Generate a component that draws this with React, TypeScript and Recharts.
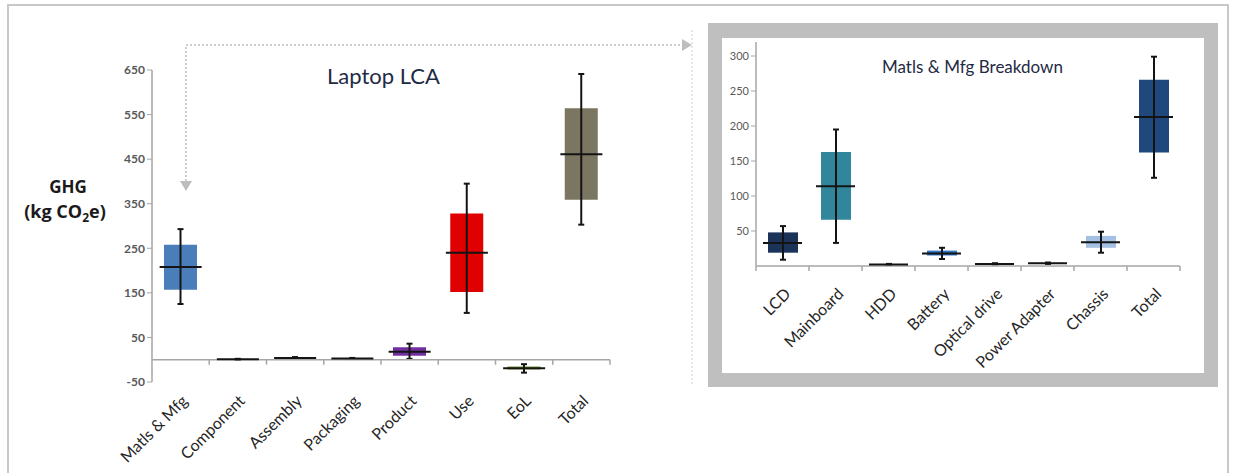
import React from "react";
import {
  ComposedChart,
  Bar,
  Scatter,
  XAxis,
  YAxis,
  Cell,
  ReferenceLine,
} from "recharts";

// Laptop LCA (left)
const lcaCategories = ["Matls & Mfg", "Component", "Assembly", "Packaging", "Product", "Use", "EoL", "Total"];
const lcaMin = [125, 0, 2, 1.5, 2, 105, -29, 303];
const lcaQ1 = [157, 0.5, 3, 2, 9, 152, -22, 359];
const lcaMedian = [208, 1, 4, 3, 18, 240, -19, 461];
const lcaQ3 = [258, 1.5, 5, 3.5, 28, 328, -15, 564];
const lcaMax = [293, 2, 6, 4, 36, 395, -10, 641];
const lcaTicks = [-50, 50, 150, 250, 350, 450, 550, 650];
const lcaColors = ["#4a7ebb", "#3a3a3a", "#3a3a3a", "#3a3a3a", "#7030a0", "#e00000", "#77933c", "#7a7661"];

// Matls & Mfg breakdown (right)
const partCategories = ["LCD", "Mainboard", "HDD", "Battery", "Optical drive", "Power Adapter", "Chassis", "Total"];
const partMin = [9, 33, 1, 10, 2, 3, 19, 126];
const partQ1 = [19, 66, 1.5, 15, 2.5, 3.5, 26, 162];
const partMedian = [33, 114, 2, 18, 3, 4, 34, 213];
const partQ3 = [48, 163, 2.5, 22, 3.5, 4.5, 43, 266];
const partMax = [57, 195, 3, 26, 4, 5, 49, 299];
const partTicks = [50, 100, 150, 200, 250, 300];
const partColors = ["#1b3358", "#31869b", "#404040", "#2f75c5", "#404040", "#404040", "#a4c1e3", "#1f497d"];

const FONT = "Lato, 'Open Sans', sans-serif";

type Row = { name: string; lo: number; q1: number; med: number; q3: number; hi: number };

function toRows(names: string[], lo: number[], q1: number[], med: number[], q3: number[], hi: number[]): Row[] {
  return names.map((name, i) => ({ name, lo: lo[i], q1: q1[i], med: med[i], q3: q3[i], hi: hi[i] }));
}

const lcaRows = toRows(lcaCategories, lcaMin, lcaQ1, lcaMedian, lcaQ3, lcaMax);
const partRows = toRows(partCategories, partMin, partQ1, partMedian, partQ3, partMax);

function Whisker(props: any) {
  const { x, y, width, height } = props;
  const cx = x + width / 2;
  const top = Math.min(y, y + height);
  const bot = Math.max(y, y + height);
  return (
    <g stroke="#141414" strokeWidth={2}>
      <line x1={cx} x2={cx} y1={top} y2={bot} />
      <line x1={cx - 3} x2={cx + 3} y1={top} y2={top} />
      <line x1={cx - 3} x2={cx + 3} y1={bot} y2={bot} />
    </g>
  );
}

const medianLine = (w: number) => (props: any) => (
  <line x1={props.cx - w / 2} x2={props.cx + w / 2} y1={props.cy} y2={props.cy} stroke="#141414" strokeWidth={2} />
);

// horizontal axis at zero with tick marks between categories
const zeroAxis = (count: number, from: number) => (p: any) => {
  const { x1, x2, y1 } = p;
  const step = (x2 - x1) / count;
  const marks = [];
  for (let i = from; i <= count; i++) {
    const tx = x1 + i * step;
    marks.push(<line key={i} x1={tx} x2={tx} y1={y1} y2={y1 + 5} />);
  }
  return (
    <g stroke="#a6a6a6" strokeWidth={1.5}>
      <line x1={x1} x2={x2} y1={y1} y2={y1} />
      {marks}
    </g>
  );
};

const slantTick = (dx: number, dy: number, size: number) => (props: any) => {
  const { x, y, payload } = props;
  const ax = x + dx;
  const ay = y + dy;
  return (
    <text x={ax} y={ay} transform={`rotate(-45 ${ax} ${ay})`} textAnchor="end" fontSize={size} fill="#262626" fontFamily={FONT}>
      {payload.value}
    </text>
  );
};

function BoxChart(props: {
  rows: Row[];
  colors: string[];
  domain: [number, number];
  ticks: number[];
  width: number;
  height: number;
  margin: { top: number; right: number; bottom: number; left: number };
  yWidth: number;
  boxW: number;
  medW: number;
  tickFrom: number;
  label: any;
  yTickStyle: any;
}) {
  const { rows, colors, domain, ticks, boxW, medW } = props;
  return (
    <ComposedChart width={props.width} height={props.height} data={rows} margin={props.margin} barGap={-boxW}>
      <XAxis
        dataKey="name"
        interval={0}
        axisLine={false}
        tickLine={false}
        tickSize={0}
        tickMargin={0}
        height={80}
        tick={props.label}
      />
      <YAxis
        type="number"
        domain={domain}
        ticks={ticks}
        width={props.yWidth}
        axisLine={{ stroke: "#a6a6a6", strokeWidth: 1.5 }}
        tickLine={{ stroke: "#a6a6a6" }}
        tickSize={5}
        tick={props.yTickStyle}
        allowDataOverflow
      />
      <ReferenceLine y={0} shape={zeroAxis(rows.length, props.tickFrom)} />
      <Bar dataKey={(d: Row) => [d.q1, d.q3]} barSize={boxW} isAnimationActive={false}>
        {rows.map((r, i) => (
          <Cell key={r.name} fill={colors[i]} />
        ))}
      </Bar>
      <Bar dataKey={(d: Row) => [d.lo, d.hi]} barSize={boxW} shape={Whisker} isAnimationActive={false} />
      <Scatter dataKey="med" shape={medianLine(medW)} isAnimationActive={false} />
    </ComposedChart>
  );
}

export default function App() {
  return (
    <div style={{ position: "absolute", left: 0, top: 0, width: 1233, height: 473, background: "#fff", fontFamily: FONT, overflow: "hidden" }}>
      <svg width={1233} height={473} style={{ position: "absolute", left: 0, top: 0 }}>
        <path d="M8 473 V5 H1228 V473" fill="none" stroke="#c8c8c8" strokeWidth={2} />
        <rect x={708} y={23} width={510} height={364} fill="#bfbfbf" />
        <rect x={722} y={38} width={482} height={335} fill="#ffffff" />
        <path d="M186 181 V45 H682" fill="none" stroke="#bdbdbd" strokeWidth={1.5} strokeDasharray="2 2" />
        <polygon points="682,39 692,45 682,51" fill="#bdbdbd" />
        <polygon points="180,181 192,181 186,191" fill="#bdbdbd" />
        <line x1={692} x2={692} y1={30} y2={384} stroke="#cfcfcf" strokeWidth={1} strokeDasharray="2 2" />
      </svg>

      <div style={{ position: "absolute", left: 0, top: 0 }}>
        <BoxChart
          rows={lcaRows}
          colors={lcaColors}
          domain={[-50, 650]}
          ticks={lcaTicks}
          width={700}
          height={473}
          margin={{ top: 70, right: 90, bottom: 11, left: 112 }}
          yWidth={40}
          boxW={33}
          medW={42}
          tickFrom={1}
          label={slantTick(8, 20, 16)}
          yTickStyle={{ fontSize: 12, fontWeight: "bold", fill: "#595959", fontFamily: FONT }}
        />
      </div>

      <div style={{ position: "absolute", left: 700, top: 0 }}>
        <BoxChart
          rows={partRows}
          colors={partColors}
          domain={[0, 320]}
          ticks={partTicks}
          width={533}
          height={473}
          margin={{ top: 42, right: 53, bottom: 127, left: 26 }}
          yWidth={30}
          boxW={30}
          medW={39}
          tickFrom={0}
          label={slantTick(9, 29, 16)}
          yTickStyle={{ fontSize: 11, fill: "#595959", fontFamily: FONT }}
        />
      </div>

      <svg width={1233} height={473} style={{ position: "absolute", left: 0, top: 0, pointerEvents: "none" }}>
        <text x={327} y={84} fontSize={22} fill="#1f2a44" fontFamily={FONT}>Laptop LCA</text>
        <text x={882} y={73} fontSize={17} fill="#1f2a44" fontFamily={FONT}>Matls &amp; Mfg Breakdown</text>
        <text x={68} y={193} fontSize={17} fontWeight="bold" textAnchor="middle" fill="#1a1a1a" fontFamily="'Open Sans', sans-serif">GHG</text>
        <text x={65} y={218} fontSize={18} fontWeight="bold" textAnchor="middle" fill="#1a1a1a" fontFamily="'Open Sans', sans-serif">
          (kg CO<tspan fontSize={12} dy={4}>2</tspan><tspan dy={-4}>e)</tspan>
        </text>
      </svg>
    </div>
  );
}
